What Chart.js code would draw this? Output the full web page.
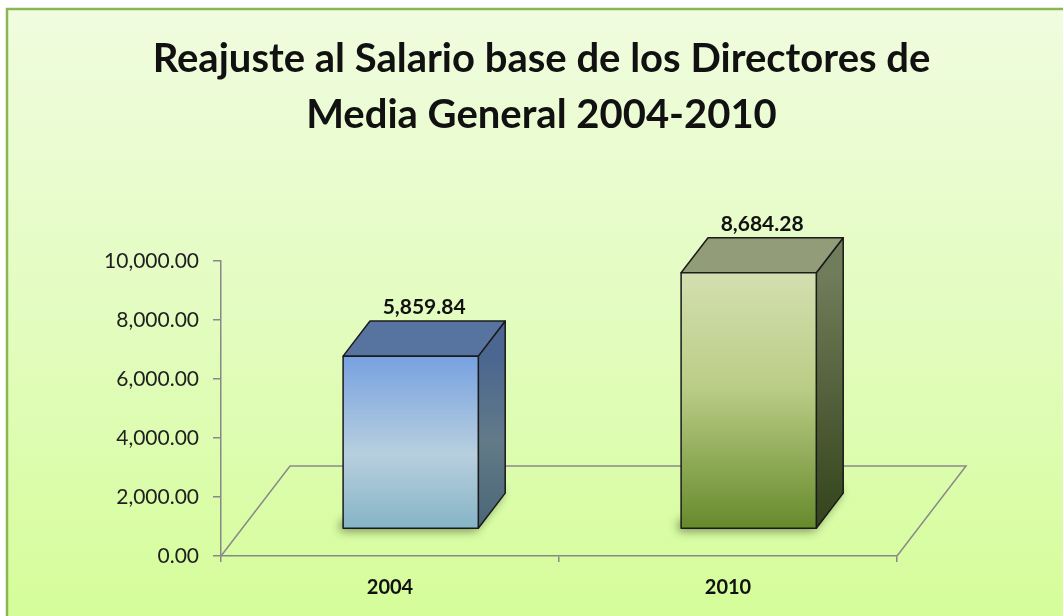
<!DOCTYPE html>
<html>
<head>
<meta charset="utf-8">
<script src="https://cdn.jsdelivr.net/npm/chart.js@4.4.1/dist/chart.umd.min.js"></script>
<style>
  html, body { margin: 0; padding: 0; background: #fff; }
  canvas { display: block; }
</style>
</head>
<body>
<canvas id="salaryChart" width="1063" height="616"></canvas>
<script>
// Datos del gráfico
const years = ['2004', '2010'];
const salaries = [5859.84, 8684.28];
const yTicks = [0, 2000, 4000, 6000, 8000, 10000];
const titleLines = ['Reajuste al Salario base de los Directores de', 'Media General 2004-2010'];

const FONT = 'Lato, "Open Sans", sans-serif';
const fmt = v => v.toLocaleString('en-US', { minimumFractionDigits: 2, maximumFractionDigits: 2 });

// Profundidad del "piso" 3D y posición de las barras dentro de él
const FLOOR_DX = 69, FLOOR_DY = -90;
const BAR_FRONT = 0.3, BAR_BACK = 0.69;

const barStyles = [
    {
        front: [[0, '#77a1e0'], [0.57, '#b7cfde'], [1, '#86b4c6']],
        side: [[0, '#4b6690'], [0.5, '#627a88'], [1, '#4a6676']],
        top: '#5774a0'
    },
    {
        front: [[0, '#d4dfb0'], [0.45, '#bacd86'], [1, '#678a2c']],
        side: [[0, '#6f7d5a'], [1, '#33431a']],
        top: '#929c78'
    }
];

function gradient(ctx, x0, y0, x1, y1, stops) {
    const g = ctx.createLinearGradient(x0, y0, x1, y1);
    stops.forEach(([o, c]) => g.addColorStop(o, c));
    return g;
}

// Fondo con marco verde
const backgroundPlugin = {
    id: 'frameBackground',
    beforeDraw(chart) {
        const { ctx, width, height } = chart;
        ctx.save();
        ctx.fillStyle = '#ffffff';
        ctx.fillRect(0, 0, width, height);
        ctx.fillStyle = gradient(ctx, 0, 9, 0, height, [[0, '#f0fcdf'], [0.5, '#e3fcc0'], [1, '#d5fd9a']]);
        ctx.fillRect(7, 9, width - 7, height - 9);
        ctx.strokeStyle = '#8bb752';
        ctx.lineWidth = 2.5;
        ctx.beginPath();
        ctx.moveTo(7, height);
        ctx.lineTo(7, 9);
        ctx.lineTo(width, 9);
        ctx.stroke();
        ctx.restore();
    }
};

// Piso en perspectiva
const floorPlugin = {
    id: 'floor3d',
    beforeDatasetsDraw(chart) {
        const { ctx, chartArea: a } = chart;
        ctx.save();
        ctx.strokeStyle = '#8a8a8a';
        ctx.lineWidth = 1.5;
        ctx.beginPath();
        ctx.moveTo(a.left, a.bottom);
        ctx.lineTo(a.left + FLOOR_DX, a.bottom + FLOOR_DY);
        ctx.lineTo(a.right + FLOOR_DX, a.bottom + FLOOR_DY);
        ctx.lineTo(a.right, a.bottom);
        ctx.stroke();
        ctx.restore();
    }
};

// Barras 3D dibujadas a partir de los elementos de Chart.js
const bars3dPlugin = {
    id: 'bars3d',
    afterDatasetsDraw(chart) {
        const { ctx } = chart;
        const meta = chart.getDatasetMeta(0);
        const fx = FLOOR_DX * BAR_FRONT, fy = FLOOR_DY * BAR_FRONT;
        const bx = FLOOR_DX * BAR_BACK, by = FLOOR_DY * BAR_BACK;
        const dx = bx - fx, dy = by - fy;

        meta.data.forEach((bar, i) => {
            const { x, y, base, width } = bar.getProps(['x', 'y', 'base', 'width'], true);
            const st = barStyles[i % barStyles.length];
            const l = x - width / 2 + fx, r = x + width / 2 + fx;
            const t = y + fy, b = base + fy;

            ctx.save();
            ctx.lineJoin = 'round';
            ctx.strokeStyle = '#1b1b1b';
            ctx.lineWidth = 1.5;

            // sombra
            ctx.save();
            ctx.shadowColor = 'rgba(30,40,10,0.7)';
            ctx.shadowBlur = 10;
            ctx.shadowOffsetX = -3;
            ctx.shadowOffsetY = 3;
            ctx.fillStyle = 'rgba(60,70,40,0.7)';
            ctx.beginPath();
            ctx.moveTo(l, b);
            ctx.lineTo(r, b);
            ctx.lineTo(r + dx, b + dy);
            ctx.lineTo(r + dx, b + dy - 10);
            ctx.lineTo(l, b - 10);
            ctx.closePath();
            ctx.fill();
            ctx.restore();

            // cara lateral
            ctx.fillStyle = gradient(ctx, 0, t, 0, b, st.side);
            ctx.beginPath();
            ctx.moveTo(r, t);
            ctx.lineTo(r + dx, t + dy);
            ctx.lineTo(r + dx, b + dy);
            ctx.lineTo(r, b);
            ctx.closePath();
            ctx.fill();
            ctx.stroke();

            // cara superior
            ctx.fillStyle = st.top;
            ctx.beginPath();
            ctx.moveTo(l, t);
            ctx.lineTo(l + dx, t + dy);
            ctx.lineTo(r + dx, t + dy);
            ctx.lineTo(r, t);
            ctx.closePath();
            ctx.fill();
            ctx.stroke();

            // cara frontal
            ctx.fillStyle = gradient(ctx, 0, t, 0, b, st.front);
            ctx.fillRect(l, t, r - l, b - t);
            ctx.strokeRect(l, t, r - l, b - t);

            // etiqueta de valor
            ctx.fillStyle = '#111';
            ctx.font = 'bold 21px ' + FONT;
            ctx.textAlign = 'center';
            ctx.textBaseline = 'bottom';
            ctx.fillText(fmt(salaries[i]), (l + r) / 2 + dx / 2, t + dy - 3);
            ctx.restore();
        });
    }
};

const ctx = document.getElementById('salaryChart').getContext('2d');

new Chart(ctx, {
    type: 'bar',
    data: {
        labels: years,
        datasets: [{
            label: 'Salario base',
            data: salaries,
            backgroundColor: 'rgba(0,0,0,0)',
            borderWidth: 0,
            categoryPercentage: 1,
            barPercentage: 0.4
        }]
    },
    options: {
        responsive: false,
        animation: false,
        layout: { padding: { left: 20, right: 0, top: 0, bottom: 0 } },
        plugins: {
            legend: { display: false },
            tooltip: { enabled: false },
            title: {
                display: true,
                text: titleLines,
                color: '#111',
                font: { family: FONT, size: 40, weight: 'bold', lineHeight: 1.4 },
                padding: { top: 31, bottom: 118 }
            }
        },
        scales: {
            y: {
                min: 0,
                max: 10000,
                afterBuildTicks(scale) {
                    scale.ticks = yTicks.map(v => ({ value: v }));
                },
                afterFit(scale) { scale.width = 201; },
                ticks: {
                    color: '#1f1f1f',
                    font: { family: FONT, size: 21 },
                    padding: 14,
                    callback: v => fmt(v)
                },
                grid: { drawOnChartArea: false, tickLength: 8, color: '#888', lineWidth: 1.5 },
                border: { color: '#888', width: 1.5 }
            },
            // eje vacío a la derecha: deja el espacio del piso 3D
            yRight: {
                position: 'right',
                min: 0,
                max: 1,
                afterFit(scale) { scale.width = 166; },
                ticks: { display: false },
                grid: { display: false },
                border: { display: false }
            },
            x: {
                afterFit(scale) { scale.height = 60; },
                ticks: {
                    color: '#111',
                    font: { family: FONT, size: 20, weight: 'bold' },
                    padding: 14
                },
                grid: { drawOnChartArea: false, offset: true, tickLength: 6, color: '#888', lineWidth: 1.5 },
                border: { color: '#888', width: 1.5 }
            }
        }
    },
    plugins: [backgroundPlugin, floorPlugin, bars3dPlugin]
});
</script>
</body>
</html>
